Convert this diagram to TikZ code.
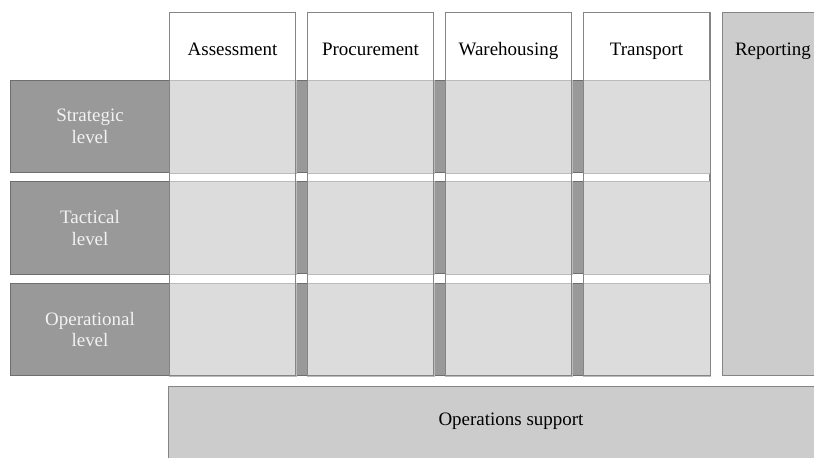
\documentclass[tikz,border=0pt]{standalone}
\usepackage{fontspec}
\setmainfont{Liberation Serif}

\definecolor{levelgray}{HTML}{999999}
\definecolor{levelline}{HTML}{6E6E6E}
\definecolor{cellgray}{HTML}{DCDCDC}
\definecolor{sidegray}{HTML}{CCCCCC}
\definecolor{edgegray}{HTML}{858585}

\tikzset{
	every box text/.style={font=\fontsize{13.5}{15.5}\selectfont},
	column box/.style={draw=edgegray, fill=white, line width=0.7pt, minimum width=3.15cm, minimum height=9.075cm, anchor=north west},
	level box/.style={draw=levelline, fill=levelgray, line width=0.7pt, minimum width=3.975cm, minimum height=2.3cm, anchor=north west, align=center, text=white!95!black, every box text/.try},
	side box/.style={draw=edgegray, fill=sidegray, line width=0.9pt, anchor=north west},
	head text/.style={every box text/.try, text=black, anchor=base}
}

\begin{document}
\begin{tikzpicture}[x=1cm, y=1cm]
		\useasboundingbox (0,0) rectangle (20.35,11.425);
		
		% column boxes
		\foreach \t [count=\i] in {Assessment,Procurement,Warehousing,Transport}
		\node [column box] (col-\i) at ({4.225+3.45*(\i-1)},11.125) {};
		
		% level bands
		\foreach \t [count=\i] in {{Strategic\\level},{Tactical\\level},{Operational\\level}}
		{
		\draw [draw=levelline, fill=levelgray, line width=0.7pt] (0.25,{9.425-2.5375*(\i-1)}) rectangle (col-4.east |- 0,{7.125-2.5375*(\i-1)});
		\node [level box] (level-\i) at (0.25,{9.425-2.5375*(\i-1)}) {\t};
		}
		
		% cells
		\foreach \i in {1,...,3}
		\foreach \j in {1,...,4}
		\draw [draw=cellgray!85!black, fill=cellgray, line width=0.4pt] (col-\j.west |- level-\i.north) rectangle (col-\j.east |- level-\i.south);
		
		% column outlines and headings
		\foreach \t [count=\i] in {Assessment,Procurement,Warehousing,Transport}
		{
		\draw [edgegray, line width=0.7pt] (col-\i.north west) rectangle (col-\i.south east);
		\node [head text] (head-\i) at (col-\i.center |- 0,10.03) {\t};
		}
		
		% reporting and operations support
		\node [side box, minimum width=2.6cm, minimum height=9.075cm] (reporting) at (18.05,11.125) {};
		\node [head text] (reporting-text) at (19.325,10.03) {Reporting};
		
		\node [side box, minimum width=17cm, minimum height=2.5cm] (support) at (4.2,1.775) {};
		\node [head text] (support-text) at (12.775,0.78) {Operations support};
		
		\end{tikzpicture}
\end{document}
